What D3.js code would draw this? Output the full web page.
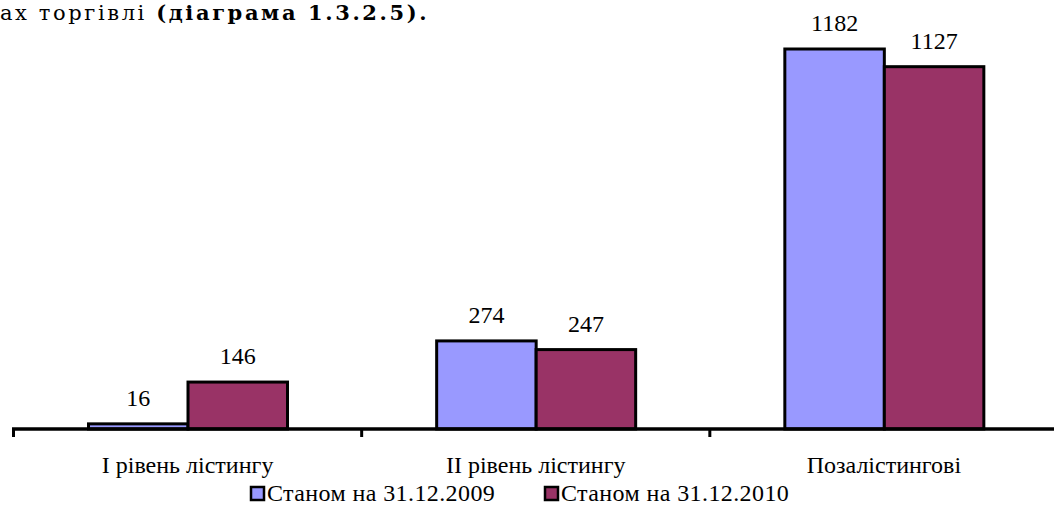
<!DOCTYPE html>
<html><head><meta charset="utf-8">
<script src="https://cdn.jsdelivr.net/npm/d3@7"></script>
<style>body{margin:0;background:#fff}svg{display:block}</style>
</head><body>
<script>
const categories = ["I рівень лістингу", "II рівень лістингу", "Позалістингові"];
const seriesNames = ["Станом на 31.12.2009", "Станом на 31.12.2010"];
const values2009 = [16, 274, 1182];
const values2010 = [146, 247, 1127];
const colors = ["#9999FF", "#993366"];

const W = 1054, H = 506;
const SERIF = "'Liberation Serif'";
const svg = d3.select("body").append("svg").attr("width", W).attr("height", H);

// title fragment
const t = svg.append("text").attr("x", 0).attr("y", 20)
  .style("font-family", "'DejaVu Serif'").style("font-size", "21px").style("letter-spacing", "2.6px").attr("fill", "#000");
t.append("tspan").text("ах торгівлі ");
t.append("tspan").style("font-weight", "bold").text("(діаграма 1.3.2.5).");

const x0 = d3.scaleBand().domain(categories).range([13.5, 1058]).paddingInner(0).paddingOuter(0);
const x1 = d3.scaleBand().domain(seriesNames).range([75, 274]);
const y = d3.scaleLinear().domain([0, 1182]).range([429, 49]);

const data = categories.map((c, i) => ({cat: c, vals: [values2009[i], values2010[i]]}));

const g = svg.append("g");
data.forEach(d => {
  d.vals.forEach((v, j) => {
    const bx = x0(d.cat) + x1(seriesNames[j]);
    g.append("rect")
      .attr("x", bx).attr("y", y(v))
      .attr("width", x1.bandwidth()).attr("height", y(0) - y(v))
      .attr("fill", colors[j]).attr("stroke", "#000").attr("stroke-width", 3);
    g.append("text")
      .attr("x", bx + x1.bandwidth() / 2).attr("y", y(v) - 18)
      .attr("text-anchor", "middle")
      .style("font-family", SERIF).style("font-size", "24px")
      .text(v);
  });
});

// axis
const ag = svg.append("g").attr("transform", `translate(0,${y(0)})`);
ag.append("line").attr("x1", x0.range()[0] - 1.5).attr("x2", x0.range()[1]).attr("stroke", "#000").attr("stroke-width", 3.5);
const ticksX = [x0.range()[0], ...categories.map(c => x0(c) + x0.bandwidth())];
ticksX.forEach(tx => ag.append("line").attr("x1", tx).attr("x2", tx).attr("y1", 0).attr("y2", 8).attr("stroke", "#000").attr("stroke-width", 3));
categories.forEach(c => {
  ag.append("text").attr("x", x0(c) + x0.bandwidth() / 2).attr("y", 44)
    .attr("text-anchor", "middle")
    .style("font-family", SERIF).style("font-size", "24px")
    .text(c);
});

// legend
const legX = [251, 545];
seriesNames.forEach((s, j) => {
  svg.append("rect").attr("x", legX[j]).attr("y", 487).attr("width", 13).attr("height", 13)
    .attr("fill", colors[j]).attr("stroke", "#000").attr("stroke-width", 2.5);
  svg.append("text").attr("x", legX[j] + 16).attr("y", 501)
    .style("font-family", SERIF).style("font-size", "24px").style("letter-spacing", "0.4px")
    .text(s);
});
</script>
</body></html>
